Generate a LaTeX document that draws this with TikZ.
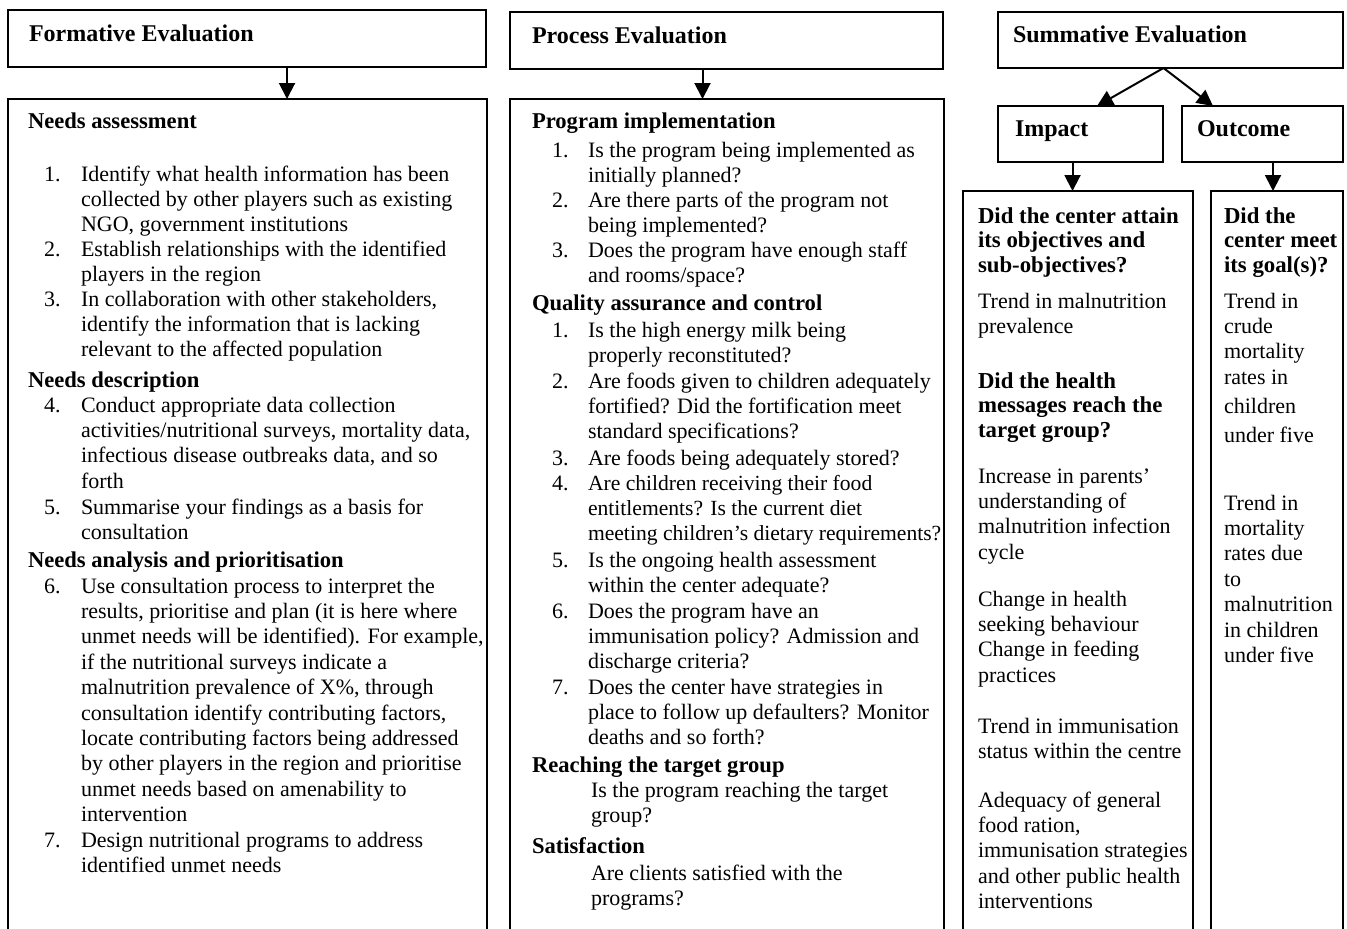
\documentclass[tikz,border=0pt]{standalone}
\usepackage{fontspec}
\setmainfont{Liberation Serif}
\usetikzlibrary{arrows.meta,positioning,calc}

% lines of a block, baseline on the first line
\newcommand{\blk}[1]{\begin{tabular}[t]{@{}l@{}}#1\end{tabular}}

\begin{document}
\begin{tikzpicture}[
    x=0.5pt, y=-0.5pt,
    inner sep=0pt, outer sep=0pt, %boxes sit exactly on their anchors
    hdrbox/.style={draw, line width=1pt, anchor=north west},
    ttl/.style={anchor=base west, font=\fontsize{12}{14}\selectfont\bfseries},
    sub/.style={anchor=base west, font=\fontsize{11.3}{12.7}\selectfont\bfseries},
    txt/.style={anchor=base west, font=\fontsize{11}{12.7}\selectfont},
    qst/.style={anchor=base west, font=\fontsize{11.4}{12.4}\selectfont\bfseries},
    arr/.style={line width=1pt, ->},
    >={Triangle[width=8pt,length=8pt]},
    ]
    \useasboundingbox (0,0) rectangle (1347,928);
    \clip (0,0) rectangle (1347,928);

    % boxes
    \node[hdrbox, minimum width=239pt, minimum height=28.5pt] (formhead) at (8,10) {};
    \node[hdrbox, minimum width=239.5pt, minimum height=420pt] (formbody) at (8,99) {};
    \node[hdrbox, minimum width=216.5pt, minimum height=28.5pt] (prochead) at (510,12) {};
    \node[hdrbox, minimum width=217pt, minimum height=420pt] (procbody) at (510,99) {};
    \node[hdrbox, minimum width=172.5pt, minimum height=28pt] (sumhead) at (998,12) {};
    \node[hdrbox, minimum width=82.5pt, minimum height=28pt] (imphead) at (998,106) {};
    \node[hdrbox, minimum width=80.5pt, minimum height=28pt] (outhead) at (1182,106) {};
    \node[hdrbox, minimum width=115pt, minimum height=400pt] (impbody) at (963,191) {};
    \node[hdrbox, minimum width=66pt, minimum height=400pt] (outbody) at (1211,191) {};

    % connectors
    \coordinate (fa) at ([xshift=20pt]formhead.south);
    \draw[arr] (fa) -- (fa |- formbody.north);
    \coordinate (pa) at ([xshift=-12pt]prochead.south);
    \draw[arr] (pa) -- (pa |- procbody.north);
    \coordinate (sa) at ([xshift=-3.5pt]sumhead.south);
    \coordinate (ia) at ([xshift=8.25pt]imphead.north);
    \coordinate (oa) at ([xshift=-24.75pt]outhead.north);
    \draw[arr] (sa) -- (ia);
    \draw[arr] (sa) -- (oa);
    \coordinate (ib) at ([xshift=-4pt]imphead.south);
    \draw[arr] (ib) -- (ib |- impbody.north);
    \coordinate (ob) at ([xshift=5.25pt]outhead.south);
    \draw[arr] (ob) -- (ob |- outbody.north);

    % formative
    \node[ttl] (formtitle) at (29,41) {Formative Evaluation};
    \node[sub] (assess) at (28,128) {Needs assessment};
    \foreach \k/\yy in {1/181,2/256,3/306,4/412,5/514,6/593,7/847}
        \node[txt] (fnum\k) at (44,\yy) {\k.};
    \node[txt] (ftxt1) at (81,181) {\blk{Identify what health information has been\\collected by other players such as existing\\NGO, government institutions}};
    \node[txt] (ftxt2) at (81,256) {\blk{Establish relationships with the identified\\players in the region}};
    \node[txt] (ftxt3) at (81,306) {\blk{In collaboration with other stakeholders,\\identify the information that is lacking\\relevant to the affected population}};
    \node[sub] (descr) at (28,387) {Needs description};
    \node[txt] (ftxt4) at (81,412) {\blk{Conduct appropriate data collection\\activities/nutritional surveys, mortality data,\\infectious disease outbreaks data, and so\\forth}};
    \node[txt] (ftxt5) at (81,514) {\blk{Summarise your findings as a basis for\\consultation}};
    \node[sub] (analysis) at (28,567) {Needs analysis and prioritisation};
    \node[txt] (ftxt6) at (81,593) {\blk{Use consultation process to interpret the\\results, prioritise and plan (it is here where\\unmet needs will be identified). For example,\\if the nutritional surveys indicate a\\malnutrition prevalence of X\%, through\\consultation identify contributing factors,\\locate contributing factors being addressed\\by other players in the region and prioritise\\unmet needs based on amenability to\\intervention}};
    \node[txt] (ftxt7) at (81,847) {\blk{Design nutritional programs to address\\identified unmet needs}};

    % process
    \node[ttl] (proctitle) at (532,43) {Process Evaluation};
    \node[sub] (implement) at (532,128) {Program implementation};
    \foreach \k/\yy in {1/157,2/207,3/257}
        \node[txt] (pnum\k) at (552,\yy) {\k.};
    \node[txt] (ptxt1) at (588,157) {\blk{Is the program being implemented as\\initially planned?}};
    \node[txt] (ptxt2) at (588,207) {\blk{Are there parts of the program not\\being implemented?}};
    \node[txt] (ptxt3) at (588,257) {\blk{Does the program have enough staff\\and rooms/space?}};
    \node[sub] (quality) at (532,310) {Quality assurance and control};
    \foreach \k/\yy in {1/337,2/388,3/465,4/490,5/567,6/618,7/694}
        \node[txt] (qnum\k) at (552,\yy) {\k.};
    \node[txt] (qtxt1) at (588,337) {\blk{Is the high energy milk being\\properly reconstituted?}};
    \node[txt] (qtxt2) at (588,388) {\blk{Are foods given to children adequately\\fortified? Did the fortification meet\\standard specifications?}};
    \node[txt] (qtxt3) at (588,465) {Are foods being adequately stored?};
    \node[txt, font=\fontsize{10.8}{12.7}\selectfont] (qtxt4) at (588,490) {\blk{Are children receiving their food\\entitlements? Is the current diet\\meeting children's dietary requirements?}};
    \node[txt] (qtxt5) at (588,567) {\blk{Is the ongoing health assessment\\within the center adequate?}};
    \node[txt] (qtxt6) at (588,618) {\blk{Does the program have an\\immunisation policy? Admission and\\discharge criteria?}};
    \node[txt] (qtxt7) at (588,694) {\blk{Does the center have strategies in\\place to follow up defaulters? Monitor\\deaths and so forth?}};
    \node[sub] (reach) at (532,772) {Reaching the target group};
    \node[txt] (reachq) at (591,797) {\blk{Is the program reaching the target\\group?}};
    \node[sub] (satis) at (532,853) {Satisfaction};
    \node[txt] (satisq) at (591,880) {\blk{Are clients satisfied with the\\programs?}};

    % summative
    \node[ttl] (sumtitle) at (1013,42) {Summative Evaluation};
    \node[ttl] (imptitle) at (1015,136) {Impact};
    \node[ttl] (outtitle) at (1197,136) {Outcome};
    \node[qst] (impq1) at (978,223) {\blk{Did the center attain\\its objectives and\\sub-objectives?}};
    \node[txt] (impa1) at (978,308) {\blk{Trend in malnutrition\\prevalence}};
    \node[qst] (impq2) at (978,388) {\blk{Did the health\\messages reach the\\target group?}};
    \node[txt] (impa2) at (978,483) {\blk{Increase in parents'\\understanding of\\malnutrition infection\\cycle}};
    \node[txt] (impa3) at (978,606) {\blk{Change in health\\seeking behaviour\\Change in feeding\\practices}};
    \node[txt] (impa4) at (978,733) {\blk{Trend in immunisation\\status within the centre}};
    \node[txt] (impa5) at (978,807) {\blk{Adequacy of general\\food ration,\\immunisation strategies\\and other public health\\interventions}};
    \node[qst] (outq1) at (1224,223) {\blk{Did the\\center meet\\its goal(s)?}};
    \node[txt] (outa1) at (1224,308) {\blk{Trend in\\crude\\mortality\\rates in\\[2pt]children\\[1.5pt]under five}};
    \node[txt] (outa2) at (1224,510) {\blk{Trend in\\mortality\\rates due\\to\\malnutrition\\in children\\under five}};
\end{tikzpicture}
\end{document}
